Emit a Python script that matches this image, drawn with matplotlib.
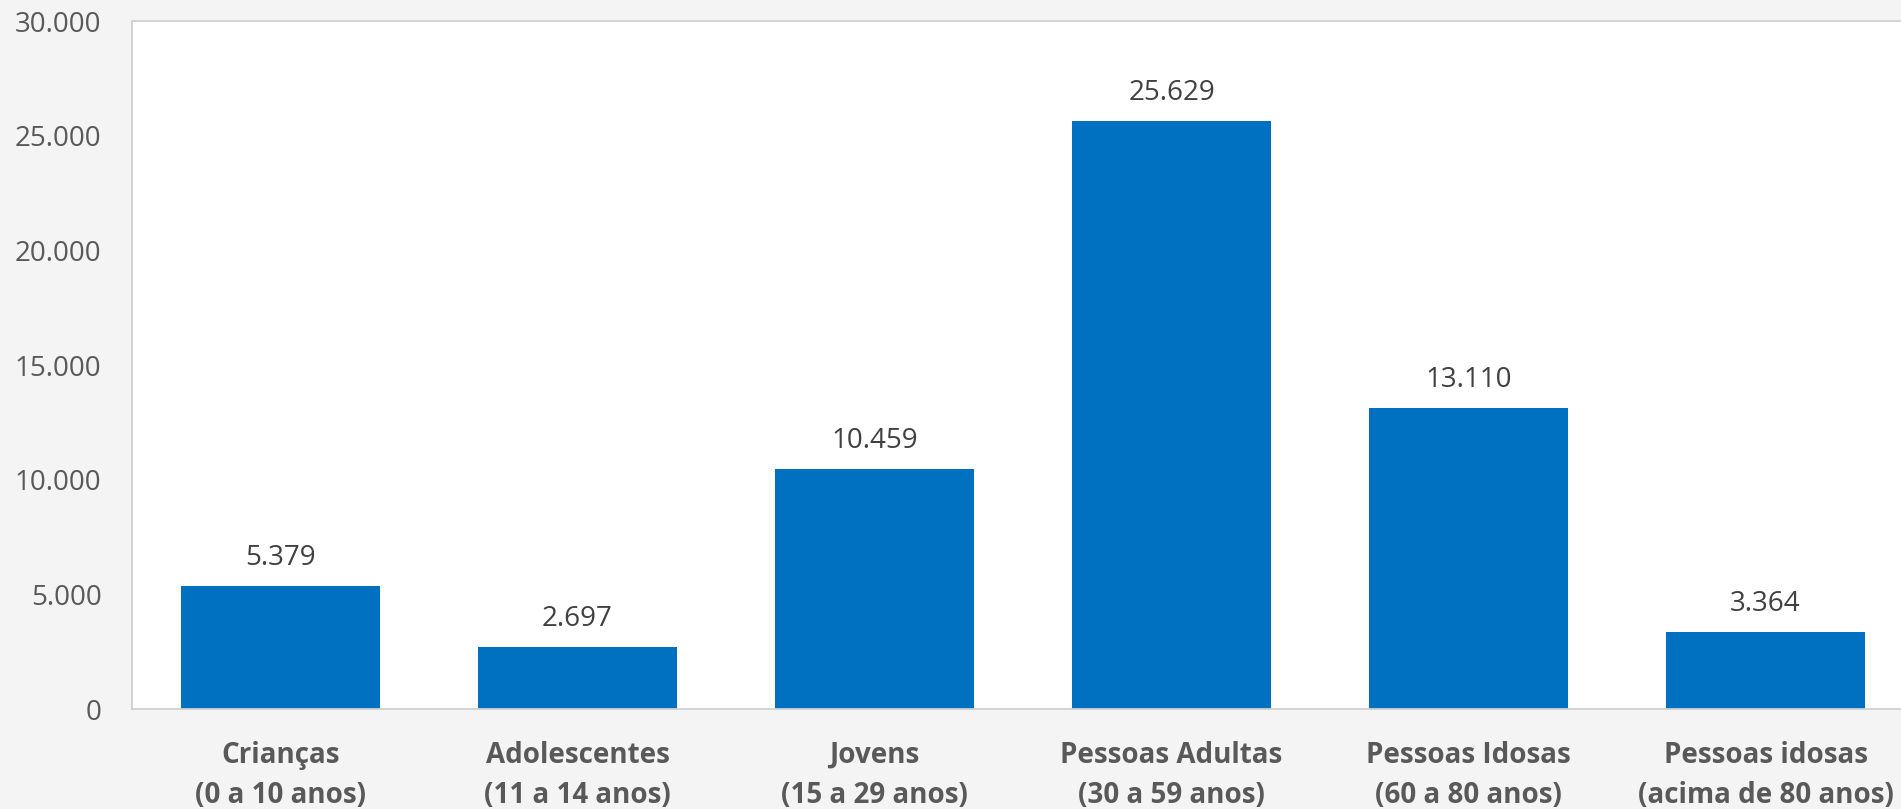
import matplotlib
matplotlib.use("Agg")
import matplotlib.pyplot as plt

categories = ["Crianças\n(0 a 10 anos)", "Adolescentes\n(11 a 14 anos)", "Jovens\n(15 a 29 anos)",
              "Pessoas Adultas\n(30 a 59 anos)", "Pessoas Idosas\n(60 a 80 anos)",
              "Pessoas idosas\n(acima de 80 anos)"]
values = [5379, 2697, 10459, 25629, 13110, 3364]
yticks = [0, 5000, 10000, 15000, 20000, 25000, 30000]

def fmt(v):
    return f"{v:,}".replace(",", ".")

plt.rcParams['font.family'] = ['Open Sans', 'DejaVu Sans']

W, H = 1901, 809
fig = plt.figure(figsize=(W / 100, H / 100), dpi=100, facecolor="#f4f4f4")
left = 132 / W
right = 1914 / W
bottom = 1 - 709 / H
top = 1 - 21 / H
ax = fig.add_axes([left, bottom, right - left, top - bottom])
ax.set_facecolor("white")

x = list(range(len(values)))
ax.bar(x, values, width=0.667, color="#0070c0", zorder=2)
for xi, v in zip(x, values):
    ax.annotate(fmt(v), (xi, v), xytext=(0, 14), textcoords="offset pixels",
                ha="center", va="bottom", fontsize=20, color="#404040")

ax.set_xlim(-0.5, 5.5)
ax.set_ylim(0, 30000)
ax.set_yticks(yticks)
ax.set_yticklabels([fmt(t) for t in yticks], fontsize=20, color="#595959")
ax.set_xticks(x)
ax.set_xticklabels(categories, fontsize=20, fontweight="bold", color="#595959", linespacing=1.5)
ax.tick_params(axis="y", length=0, pad=22)
ax.tick_params(axis="x", length=0, pad=23)
for s in ["top", "left", "bottom"]:
    ax.spines[s].set_color("#d0d0d0")
    ax.spines[s].set_linewidth(1.3)
ax.spines["right"].set_visible(False)

fig.savefig("out.png", dpi=100, facecolor=fig.get_facecolor())
